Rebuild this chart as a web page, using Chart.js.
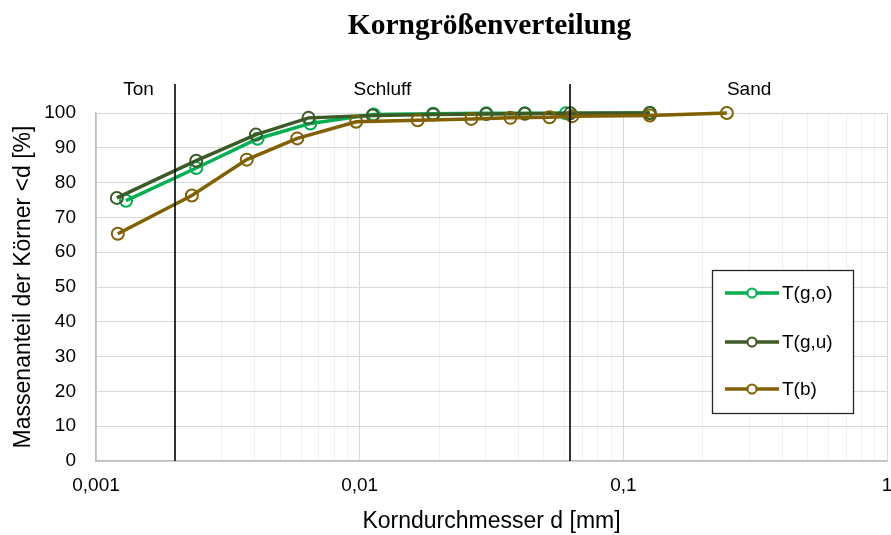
<!DOCTYPE html>
<html>
<head>
<meta charset="utf-8">
<script src="https://cdn.jsdelivr.net/npm/chart.js@4.4.1/dist/chart.umd.min.js"></script>
<style>
  html, body { margin: 0; padding: 0; background: #ffffff; overflow: hidden; }
  #wrap { width: 891px; height: 535px; overflow: hidden; }
</style>
</head>
<body>
<div id="wrap"><canvas id="c" width="895" height="535"></canvas></div>
<script>
// Grain size distribution (Korngrößenverteilung) of three samples
const chartTitle = 'Korngrößenverteilung';
const xTitle = 'Korndurchmesser d [mm]';
const yTitle = 'Massenanteil der Körner <d [%]';

const seriesNames = ['T(g,o)', 'T(g,u)', 'T(b)'];
const seriesColors = ['#00B050', '#3B5A26', '#806000'];

// grain diameter d [mm] and passing fraction [%]
const dGO = [0.0013, 0.0024, 0.0041, 0.0065, 0.0113, 0.0190, 0.0302, 0.0423, 0.0605, 0.126];
const pGO = [74.8, 84.2, 92.6, 97.0, 99.6, 99.8, 99.9, 99.9, 99.9, 100];

const dGU = [0.0012, 0.0024, 0.00404, 0.0064, 0.0112, 0.0190, 0.0302, 0.0423, 0.063, 0.126];
const pGU = [75.6, 86.3, 93.8, 98.6, 99.3, 99.6, 99.7, 99.8, 99.9, 100];

const dB = [0.00121, 0.00231, 0.00373, 0.0058, 0.0097, 0.0166, 0.0265, 0.0373, 0.0525, 0.064, 0.126, 0.247];
const pB = [65.3, 76.3, 86.6, 92.7, 97.5, 97.9, 98.3, 98.6, 98.8, 99.1, 99.3, 100];

// axis ticks
const xDecades = [0.001, 0.01, 0.1, 1];
const xTickLabels = ['0,001', '0,01', '0,1', '1'];
const xMinorSteps = [2, 3, 4, 5, 6, 7, 8, 9];
const yTickValues = [0, 10, 20, 30, 40, 50, 60, 70, 80, 90, 100];

// soil class boundaries (Ton / Schluff / Sand) and label anchors
const zoneBounds = [0.002, 0.063];
const zoneNames = ['Ton', 'Schluff', 'Sand'];
const zoneLabelAt = [0.00145, 0.0122, 0.3];

const FONT = '"Liberation Sans", Arial, sans-serif';

function toPoints(xs, ys) { return xs.map((v, i) => ({ x: v, y: ys[i] })); }

const gridValues = [];
xDecades.forEach((dec, i) => {
  gridValues.push(dec);
  if (i < xDecades.length - 1) xMinorSteps.forEach(m => gridValues.push(+(dec * m).toPrecision(6)));
});
function decadeIndex(v) {
  return xDecades.findIndex(d => Math.abs(Math.log10(v) - Math.log10(d)) < 1e-6);
}

const seriesData = [toPoints(dGO, pGO), toPoints(dGU, pGU), toPoints(dB, pB)];

const datasets = seriesNames.map((name, i) => ({
  label: name,
  data: seriesData[i],
  borderColor: seriesColors[i],
  backgroundColor: seriesColors[i],
  borderWidth: 3.5,
  pointRadius: 6,
  pointHoverRadius: 6,
  pointBorderWidth: 2,
  pointBorderColor: seriesColors[i],
  pointBackgroundColor: 'rgba(0,0,0,0)',
  tension: 0,
  clip: false,
  order: seriesNames.length - i
}));

// title, class boundaries, class names and boxed legend
const decorations = {
  id: 'decorations',
  afterDatasetsDraw(chart) {
    const { ctx, chartArea, scales: { x } } = chart;
    ctx.save();

    ctx.strokeStyle = '#000000';
    ctx.lineWidth = 1.6;
    zoneBounds.forEach(v => {
      const px = Math.round(x.getPixelForValue(v));
      ctx.beginPath();
      ctx.moveTo(px, chartArea.bottom);
      ctx.lineTo(px, chartArea.top - 29);
      ctx.stroke();
    });

    ctx.fillStyle = '#000000';
    ctx.font = '19px ' + FONT;
    ctx.textAlign = 'center';
    ctx.textBaseline = 'middle';
    zoneNames.forEach((n, i) => {
      ctx.fillText(n, x.getPixelForValue(zoneLabelAt[i]), chartArea.top - 23);
    });

    ctx.font = 'bold 29.5px "Liberation Serif", "Times New Roman", serif';
    ctx.fillText(chartTitle, (chartArea.left + chartArea.right) / 2 - 2, 26);

    // legend box
    const bw = 141, bh = 143;
    const bx = chartArea.right - 175, by = chartArea.top + 157;
    ctx.fillStyle = '#ffffff';
    ctx.fillRect(bx, by, bw, bh);
    ctx.strokeStyle = '#262626';
    ctx.lineWidth = 1.3;
    ctx.strokeRect(bx + 0.5, by + 0.5, bw, bh);
    const rows = [23, 72, 119];
    chart.data.datasets.forEach((ds, i) => {
      const y = by + rows[i];
      ctx.strokeStyle = ds.borderColor;
      ctx.lineWidth = 3.5;
      ctx.beginPath();
      ctx.moveTo(bx + 13, y);
      ctx.lineTo(bx + 67, y);
      ctx.stroke();
      ctx.fillStyle = '#ffffff';
      ctx.lineWidth = 2;
      ctx.beginPath();
      ctx.arc(bx + 40, y, 4.5, 0, Math.PI * 2);
      ctx.fill();
      ctx.stroke();
      ctx.fillStyle = '#000000';
      ctx.font = '19px ' + FONT;
      ctx.textAlign = 'left';
      ctx.textBaseline = 'middle';
      ctx.fillText(ds.label, bx + 70, y + 1);
    });
    ctx.restore();
  }
};

new Chart(document.getElementById('c'), {
  type: 'line',
  data: { datasets },
  options: {
    responsive: false,
    animation: false,
    devicePixelRatio: 1,
    layout: { padding: { top: 113, right: 0, left: 0, bottom: 0 } },
    plugins: {
      legend: { display: false },
      title: { display: false },
      tooltip: { enabled: false }
    },
    scales: {
      x: {
        type: 'logarithmic',
        min: xDecades[0],
        max: xDecades[xDecades.length - 1],
        afterBuildTicks(scale) {
          scale.ticks = gridValues.map(v => ({ value: v }));
        },
        afterFit(scale) {
          scale.height = 74;
          scale.paddingLeft = 0;
          scale.paddingRight = 0;
        },
        ticks: {
          autoSkip: false,
          maxRotation: 0,
          padding: 13,
          color: '#000000',
          font: { family: FONT, size: 19 },
          callback(value) {
            const k = decadeIndex(value);
            return k >= 0 ? xTickLabels[k] : '';
          }
        },
        grid: {
          drawTicks: false,
          lineWidth: 1,
          color(ctx) {
            const v = ctx.tick ? ctx.tick.value : 1;
            return decadeIndex(v) >= 0 ? '#d9d9d9' : '#f0f0f0';
          }
        },
        border: { color: '#bfbfbf', width: 1.5 },
        title: {
          display: true,
          text: xTitle,
          color: '#000000',
          font: { family: FONT, size: 23 },
          padding: { top: 0, bottom: 0 }
        }
      },
      y: {
        min: 0,
        max: 100,
        afterBuildTicks(scale) {
          scale.ticks = yTickValues.map(v => ({ value: v }));
        },
        afterFit(scale) { scale.width = 96; },
        ticks: {
          padding: 20,
          color: '#000000',
          font: { family: FONT, size: 19 }
        },
        grid: { drawTicks: false, color: '#d9d9d9', lineWidth: 1 },
        border: { color: '#bfbfbf', width: 1.5 },
        title: {
          display: true,
          text: yTitle,
          color: '#000000',
          font: { family: FONT, size: 23 },
          padding: { top: 10, bottom: 0 }
        }
      }
    }
  },
  plugins: [decorations]
});
</script>
</body>
</html>
